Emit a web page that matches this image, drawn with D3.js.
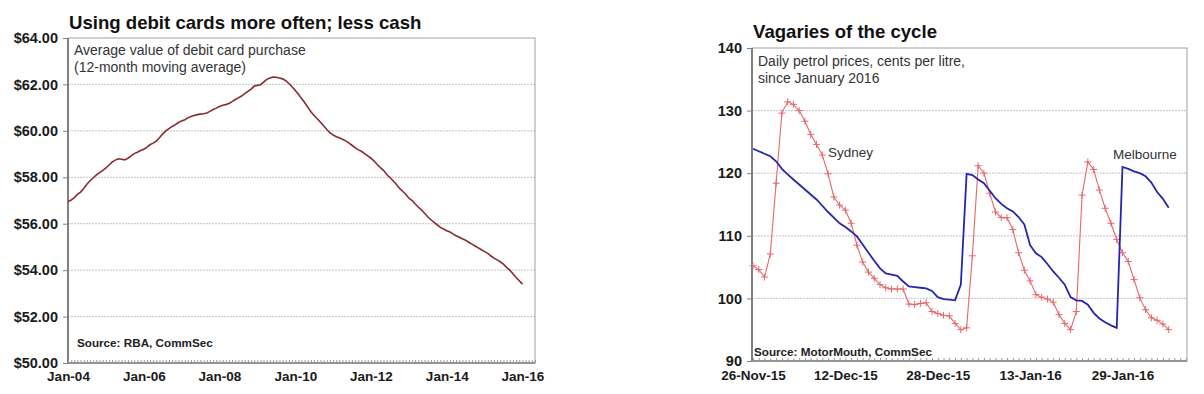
<!DOCTYPE html>
<html><head><meta charset="utf-8">
<script src="https://cdn.jsdelivr.net/npm/d3@7"></script>
<style>
html,body{margin:0;padding:0;background:#fff;}
svg{display:block;font-family:Arial,"Liberation Sans",sans-serif;}
</style></head>
<body>
<svg id="c" width="1204" height="394"></svg>
<script>
// ---------- Left chart data: monthly, Jan 2004 .. Jan 2016 ----------
const debitStart = "2004-01";
const debitValues = [
 56.95,57.02,57.12,57.26,57.36,57.52,57.70,57.85,57.98,58.10,58.20,58.30,
 58.40,58.53,58.65,58.74,58.80,58.78,58.75,58.82,58.92,59.02,59.08,59.15,
 59.21,59.30,59.40,59.47,59.56,59.70,59.86,60.00,60.10,60.19,60.27,60.36,
 60.43,60.48,60.56,60.62,60.66,60.70,60.72,60.74,60.77,60.84,60.92,60.98,
 61.05,61.10,61.13,61.18,61.26,61.35,61.42,61.50,61.60,61.70,61.80,61.93,
 61.96,61.99,62.10,62.22,62.28,62.32,62.31,62.28,62.24,62.16,62.04,61.90,
 61.74,61.58,61.40,61.22,61.02,60.82,60.66,60.52,60.37,60.22,60.06,59.92,
 59.82,59.75,59.70,59.64,59.57,59.48,59.38,59.28,59.18,59.12,59.02,58.92,
 58.82,58.70,58.55,58.42,58.30,58.12,58.00,57.85,57.70,57.53,57.40,57.27,
 57.10,57.00,56.86,56.72,56.60,56.45,56.30,56.17,56.06,55.95,55.84,55.77,
 55.70,55.64,55.56,55.48,55.42,55.35,55.29,55.20,55.12,55.04,54.96,54.88,
 54.80,54.72,54.62,54.52,54.44,54.36,54.26,54.12,54.00,53.84,53.68,53.54,
 53.40
];
const debitYTicks = [50,52,54,56,58,60,62,64];
const debitXTickLabels = ["Jan-04","Jan-06","Jan-08","Jan-10","Jan-12","Jan-14","Jan-16"];

// ---------- Right chart data: daily, 26 Nov 2015 .. 6 Feb 2016 ----------
const petrolStart = "2015-11-26";
const sydney = [
 105.2,104.6,103.4,107.1,118.4,129.6,131.4,131.0,130.0,128.3,126.2,124.6,122.9,119.9,116.2,114.9,
 114.1,112.0,108.5,105.8,104.2,103.2,102.2,101.7,101.5,101.5,101.5,99.1,99.0,99.2,99.3,97.9,
 97.6,97.3,97.2,96.0,95.0,95.3,106.8,121.2,120.0,116.8,113.8,112.9,112.9,111.0,107.3,104.5,
 102.8,100.6,100.2,99.9,99.4,97.4,96.0,95.0,97.9,116.5,121.8,120.6,117.3,114.4,112.0,109.4,
 107.3,105.9,103.0,100.1,98.2,96.9,96.5,95.9,95.0
];
const melbourne = [
 123.9,123.5,123.1,122.7,121.9,120.7,119.8,119.0,118.2,117.4,116.6,115.8,114.8,113.8,112.9,112.0,
 111.4,110.7,109.9,108.6,107.3,106.0,104.8,104.0,103.8,103.6,102.7,101.9,101.8,101.7,101.6,101.2,
 100.2,99.9,99.8,99.7,102.2,119.9,119.7,119.0,118.4,117.2,116.0,115.1,114.4,113.9,113.0,111.8,
 108.5,107.2,106.6,105.5,104.3,103.3,102.2,100.2,99.7,99.6,99.0,97.7,96.8,96.2,95.7,95.3,
 121.0,120.7,120.3,120.0,119.5,118.5,117.0,115.9,114.5
];
const petrolYTicks = [90,100,110,120,130,140];
const petrolXTickLabels = ["26-Nov-15","12-Dec-15","28-Dec-15","13-Jan-16","29-Jan-16"];

// ---------- drawing ----------
const svg = d3.select("#c");
svg.append("rect").attr("width",1204).attr("height",394).attr("fill","#fff");

const gridCol = "#cfcfcf", axisCol = "#808080", txtCol = "#1a1a1a";
const FF = "Arial,'Liberation Sans',sans-serif";

function panel(o){
  const g = svg.append("g");
  o.yTicks.forEach(v=>{
    if (v===o.y.domain()[0] || v===o.y.domain()[1]) return;
    g.append("line").attr("x1",o.left).attr("x2",o.right)
      .attr("y1",o.y(v)).attr("y2",o.y(v))
      .attr("stroke",gridCol).attr("stroke-width",1.2).attr("stroke-dasharray","2,1");
  });
  g.append("rect").attr("x",o.left).attr("y",o.top)
    .attr("width",o.right-o.left).attr("height",o.bottom-o.top)
    .attr("fill","none").attr("stroke","#a0a0a0").attr("stroke-width",1);
  g.append("line").attr("x1",o.left).attr("x2",o.left).attr("y1",o.top).attr("y2",o.bottom)
    .attr("stroke",axisCol).attr("stroke-width",2);
  g.append("line").attr("x1",o.left).attr("x2",o.right).attr("y1",o.bottom).attr("y2",o.bottom)
    .attr("stroke",axisCol).attr("stroke-width",1.5);
  const yAx = g.append("g").attr("transform",`translate(${o.left},0)`)
    .call(d3.axisLeft(o.y).tickValues(o.yTicks).tickFormat(o.yFmt).tickSize(5).tickPadding(5));
  yAx.select(".domain").remove();
  yAx.selectAll("line").attr("stroke",axisCol);
  yAx.selectAll("text").attr("font-size",14.5).attr("font-weight","bold").attr("fill",txtCol)
    .attr("font-family",FF);
  const minor = g.append("g").attr("transform",`translate(0,${o.bottom})`)
    .call(d3.axisTop(o.x).tickValues(o.minorTicks).tickSize(3).tickFormat(""));
  minor.select(".domain").remove();
  minor.selectAll("line").attr("stroke","#999");
  const xAx = g.append("g").attr("transform",`translate(0,${o.bottom})`)
    .call(d3.axisBottom(o.x).tickValues(o.xTickDates).tickSize(0).tickPadding(o.xPad)
      .tickFormat((d,i)=>o.xLabels[i]));
  xAx.select(".domain").remove();
  xAx.selectAll("text").attr("font-size",13.5).attr("font-weight","bold").attr("fill",txtCol)
    .attr("font-family",FF);
  g.append("text").attr("x",o.left+1).attr("y",o.titleY).text(o.title)
    .attr("font-size",18.6).attr("font-weight","bold").attr("fill","#111");
  o.sub.forEach((s,i)=>{
    g.append("text").attr("x",o.left+6).attr("y",o.subY+i*17).text(s)
      .attr("font-size",14).attr("fill","#333");
  });
  g.append("text").attr("x",o.left+o.srcDx).attr("y",o.bottom-o.srcDy).text(o.source)
    .attr("font-size",11.7).attr("font-weight","bold").attr("fill","#222");
  return g;
}

// Left chart
const parseMonth = d3.timeParse("%Y-%m");
const d0 = parseMonth(debitStart);
const debitData = debitValues.map((v,i)=>({date:d3.timeMonth.offset(d0,i), v}));
const xL = d3.scaleTime().domain([d0, d3.timeMonth.offset(d0,148)]).range([68,535]);
const yL = d3.scaleLinear().domain([50,64]).range([363,38]);
const gL = panel({
  left:68,right:535,top:38,bottom:363,x:xL,y:yL,yTicks:debitYTicks,
  yFmt:d=>"$"+d3.format(".2f")(d),
  minorTicks:d3.timeMonth.range(d0, d3.timeMonth.offset(d0,149)),
  xTickDates:debitXTickLabels.map((s,i)=>d3.timeMonth.offset(d0,i*24)),
  xLabels:debitXTickLabels, xPad:8,
  title:"Using debit cards more often; less cash", titleY:29,
  sub:["Average value of debit card purchase","(12-month moving average)"], subY:55,
  source:"Source: RBA, CommSec", srcDx:9, srcDy:16
});
gL.append("path").datum(debitData)
  .attr("d",d3.line().x(d=>xL(d.date)).y(d=>yL(d.v)))
  .attr("fill","none").attr("stroke","#8a2a2e").attr("stroke-width",1.6);

// Right chart
const p0 = d3.timeParse("%Y-%m-%d")(petrolStart);
const syd = sydney.map((v,i)=>({date:d3.timeDay.offset(p0,i), v}));
const mel = melbourne.map((v,i)=>({date:d3.timeDay.offset(p0,i), v}));
const xR = d3.scaleTime().domain([p0, d3.timeDay.offset(p0,75)]).range([753,1186]);
const yR = d3.scaleLinear().domain([90,140]).range([361,48]);
const gR = panel({
  left:752,right:1187,top:48,bottom:361,x:xR,y:yR,yTicks:petrolYTicks,
  yFmt:d=>d,
  minorTicks:d3.timeDay.range(p0, d3.timeDay.offset(p0,76)),
  xTickDates:petrolXTickLabels.map((s,i)=>d3.timeDay.offset(p0,i*16)),
  xLabels:petrolXTickLabels, xPad:9,
  title:"Vagaries of the cycle", titleY:38,
  sub:["Daily petrol prices, cents per litre,","since January 2016"], subY:66,
  source:"Source: MotorMouth, CommSec", srcDx:2, srcDy:5
});
const lineR = d3.line().x(d=>xR(d.date)).y(d=>yR(d.v));
gR.append("path").datum(syd).attr("d",lineR)
  .attr("fill","none").attr("stroke","#e5686a").attr("stroke-width",1.1);
gR.append("g").selectAll("path").data(syd).join("path")
  .attr("d",d=>{const x=xR(d.date), y=yR(d.v); return `M${x-3.5},${y}H${x+3.5}M${x},${y-3.5}V${y+3.5}`;})
  .attr("stroke","#e5686a").attr("stroke-width",1).attr("fill","none");
gR.append("path").datum(mel).attr("d",lineR)
  .attr("fill","none").attr("stroke","#2525b0").attr("stroke-width",1.8);
gR.append("text").attr("x",828).attr("y",157).text("Sydney").attr("font-size",13.5).attr("fill","#333");
gR.append("text").attr("x",1113).attr("y",159).text("Melbourne").attr("font-size",13.5).attr("fill","#333");
</script>
</body></html>
